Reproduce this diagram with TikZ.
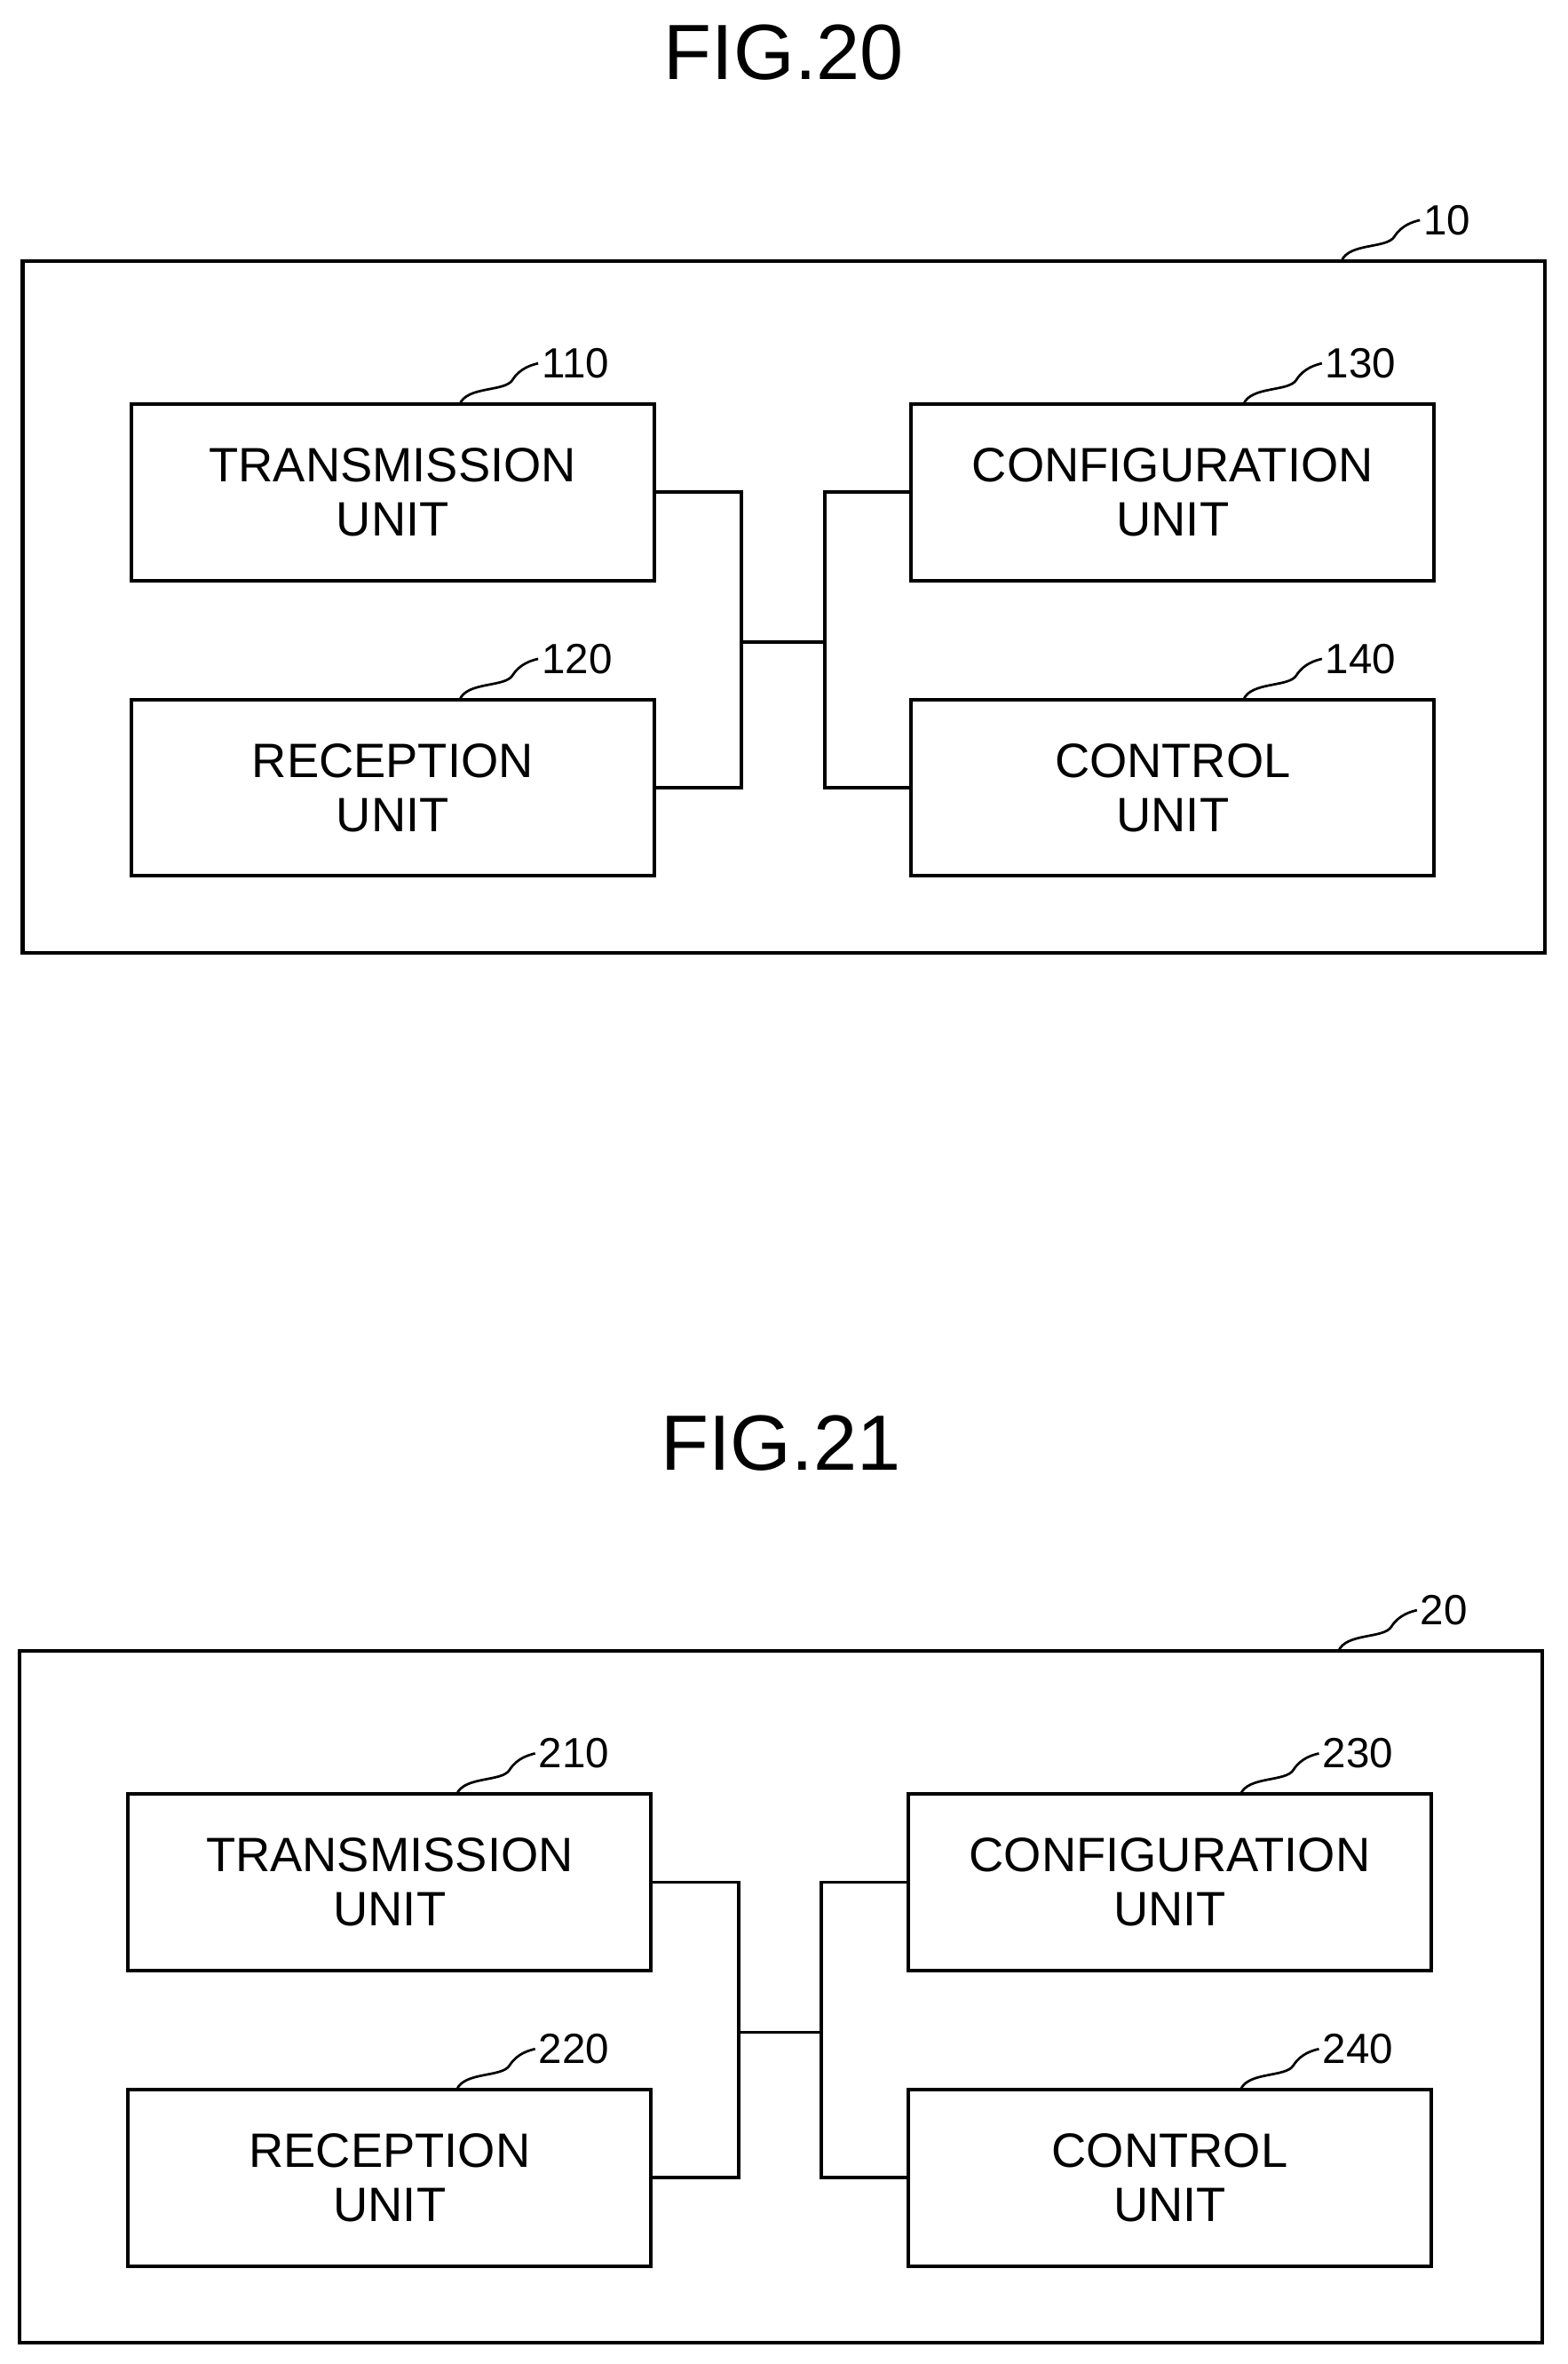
\documentclass[tikz,border=0pt]{standalone}
\usepackage{fontspec}
\setmainfont{Liberation Sans}
\begin{document}
\begin{tikzpicture}[x=0.5pt,y=-0.5pt,
  box/.style={draw,line width=1.2pt,minimum width=173.5pt,minimum height=58.5pt,align=center,font=\fontsize{16}{18}\selectfont,inner sep=0pt},
  outer/.style={draw,line width=1.2pt},
  lbl/.style={font=\fontsize{14}{16}\selectfont,anchor=west,inner sep=1pt},
  ttl/.style={font=\fontsize{26}{30}\selectfont},
  ln/.style={line width=1.1pt}]
\useasboundingbox (0,0) rectangle (1040,1568);
\foreach \dy/\dx/\a/\b/\c/\d/\o/\f in {0/0/110/120/130/140/10/20, 922/-2/210/220/230/240/20/21}{
  \begin{scope}[shift={(\dx,\dy)}]
  \node[ttl] (t\f) at (520,35) {FIG.\f};
  \draw[outer] (15,173) rectangle (1025,632);
  \node[box] (b\a) at (260.5,326.5) {TRANSMISSION\\UNIT};
  \node[box] (b\b) at (260.5,522.5) {RECEPTION\\UNIT};
  \node[box] (b\c) at (778,326.5) {CONFIGURATION\\UNIT};
  \node[box] (b\d) at (778,522.5) {CONTROL\\UNIT};
  \draw[ln] (b\a.east) -- (492,326.5) -- (492,522.5) -- (b\b.east);
  \draw[ln] (b\c.west) -- (547,326.5) -- (547,522.5) -- (b\d.west);
  \draw[ln] (492,426) -- (547,426);
  \foreach \n/\x/\y in {\a/305/268,\b/305/464,\c/825/268,\d/825/464,\o/890/173}{
    \node[lbl] (l\n) at (\x+52,\y-27) {\n};
    \draw[line width=0.8pt] (\x,\y) .. controls (\x+5,\y-12) and (\x+30,\y-8) .. (\x+35,\y-16) .. controls (\x+40,\y-24) and (\x+48,\y-26) .. (l\n.west);
  }
  \end{scope}
}
\end{tikzpicture}
\end{document}
